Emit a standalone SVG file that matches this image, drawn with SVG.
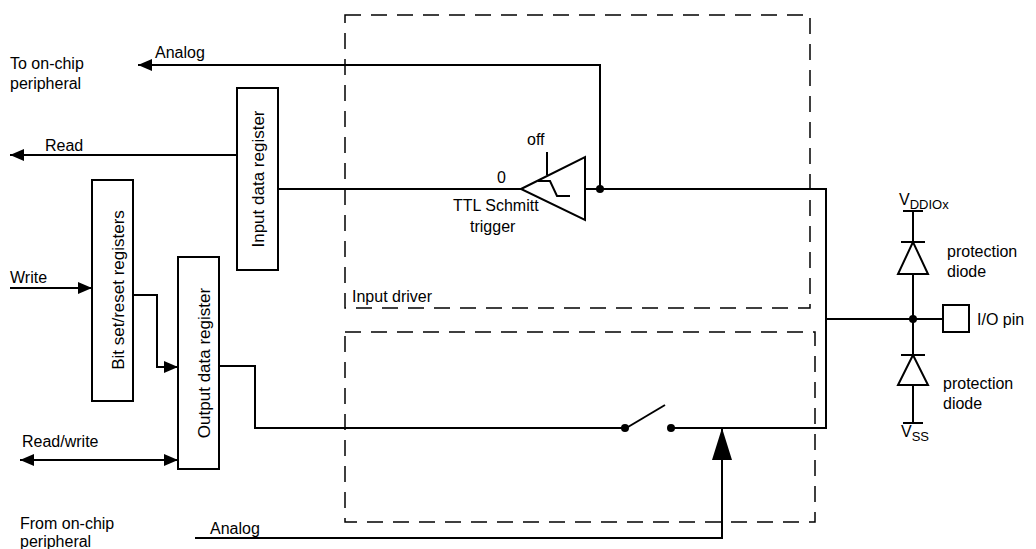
<svg xmlns="http://www.w3.org/2000/svg" width="1036" height="549" viewBox="0 0 1036 549">
<defs>
<marker id="ah" markerWidth="14" markerHeight="12" refX="14" refY="6" orient="auto-start-reverse" markerUnits="userSpaceOnUse"><path d="M0,0 L14,6 L0,12 z" fill="#000"/></marker>
<marker id="big" markerWidth="32" markerHeight="20" refX="32" refY="10" orient="auto" markerUnits="userSpaceOnUse"><path d="M0,0 L32,10 L0,20 z" fill="#000"/></marker>
</defs>
<style>
text{font-family:"Liberation Sans",Arial,sans-serif;font-size:16px;fill:#000}
.r{font-size:17px}
.b{fill:#fff;stroke:#000;stroke-width:2}
.w{fill:none;stroke:#000;stroke-width:2}
.d{fill:none;stroke:#000;stroke-width:1.5;stroke-dasharray:16,10}
</style>
<rect width="1036" height="549" fill="#fff"/>
<g id="input-driver"><rect class="d" x="345" y="15" width="465" height="293"/><text x="352" y="302">Input driver</text></g>
<g id="output-driver"><rect class="d" x="345" y="332" width="470" height="190"/></g>
<g id="connectors">
<path class="w" d="M600,189 V65 H138" marker-end="url(#ah)"/>
<path class="w" d="M237,155 H10" marker-end="url(#ah)"/>
<path class="w" d="M278,189 H521"/>
<path class="w" d="M585,189 H826 V428 H671"/>
<path class="w" d="M826,319 H943"/>
<path class="w" d="M10,288 H92" marker-end="url(#ah)"/>
<path class="w" d="M133,295 H157 V367 H178" marker-end="url(#ah)"/>
<path class="w" d="M20,460 H178" marker-start="url(#ah)" marker-end="url(#ah)"/>
<path class="w" d="M219,366 H255 V428 H625"/>
<path class="w" d="M628,427 L665,405" stroke-width="1.5"/>
<path class="w" d="M195,538 H722 V428" marker-end="url(#big)"/>
<path class="w" d="M547,152 V175"/>
<circle cx="600" cy="189" r="4"/><circle cx="625" cy="428" r="4"/><circle cx="671" cy="428" r="4"/><circle cx="913" cy="319" r="4"/>
</g>
<g id="input-data-register"><rect class="b" x="237" y="88" width="41" height="182"/><text class="r" transform="translate(264,179) rotate(-90)" text-anchor="middle">Input data register</text></g>
<g id="bit-set-reset"><rect class="b" x="92" y="180" width="41" height="221"/><text class="r" transform="translate(124,290) rotate(-90)" text-anchor="middle">Bit set/reset registers</text></g>
<g id="output-data-register"><rect class="b" x="178" y="257" width="41" height="212"/><text class="r" transform="translate(210,363) rotate(-90)" text-anchor="middle">Output data register</text></g>
<g id="schmitt">
<path class="b" d="M521,189 L585,157 V220 Z"/>
<path class="w" d="M538,181 H550 L557,196 H570" stroke-width="1.5"/>
<text x="497" y="183">0</text><text x="527" y="145">off</text>
<text x="453" y="211" font-size="17">TTL Schmitt</text><text x="470" y="232">trigger</text>
</g>
<g id="diodes">
<path class="w" d="M903,211 H923 M913,211 V423 M901,242 H925 M901,355 H925 M903,423 H923"/>
<path class="b" d="M913,242 L898,274 H928 Z"/>
<path class="b" d="M913,355 L898,385 H928 Z"/>
<text x="899" y="205">V<tspan font-size="13" dy="4">DDIOx</tspan></text>
<text x="901" y="437">V<tspan font-size="13" dy="4">SS</tspan></text>
<text x="947" y="257">protection</text><text x="947" y="277">diode</text>
<text x="943" y="389">protection</text><text x="943" y="409">diode</text>
</g>
<g id="io-pin"><rect class="b" x="943" y="305" width="26" height="27"/><text x="977" y="325">I/O pin</text></g>
<g id="labels">
<text x="10" y="69">To on-chip</text><text x="10" y="89">peripheral</text>
<text x="155" y="58">Analog</text>
<text x="45" y="151">Read</text>
<text x="10" y="283">Write</text>
<text x="22" y="447">Read/write</text>
<text x="20" y="529">From on-chip</text><text x="20" y="547">peripheral</text>
<text x="210" y="534">Analog</text>
</g>
</svg>
